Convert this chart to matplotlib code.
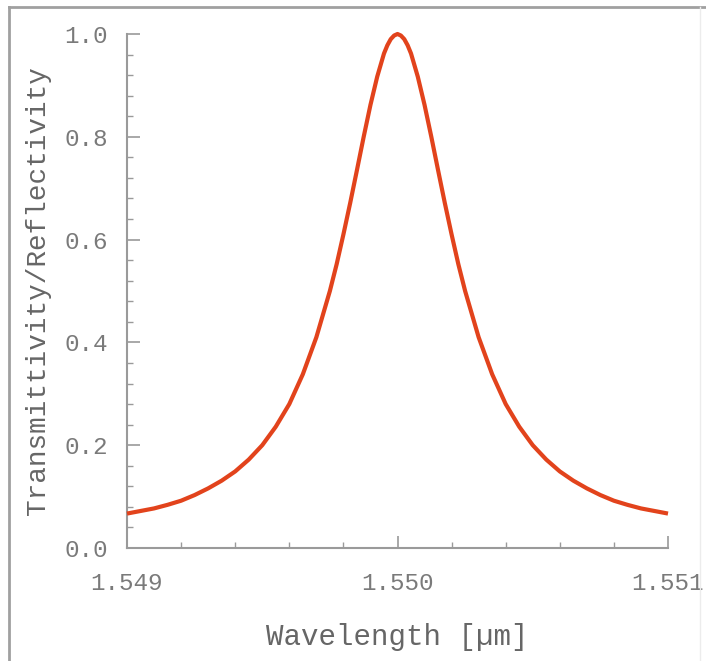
import matplotlib
matplotlib.use("Agg")
import matplotlib.pyplot as plt
from matplotlib.ticker import MultipleLocator, FixedLocator
from matplotlib.lines import Line2D

# ---- data ----
wavelength = [1.54900, 1.54905, 1.54910, 1.54915, 1.54920, 1.54925, 1.54930, 1.54935,
              1.54940, 1.54945, 1.54950, 1.54955, 1.54960, 1.54965, 1.54970, 1.549750,
              1.549775, 1.549800, 1.549825, 1.549850, 1.549875, 1.549900, 1.549925,
              1.549950, 1.5499625, 1.549975, 1.5499875, 1.550000,
              1.5500125, 1.550025, 1.5500375, 1.550050, 1.550075, 1.550100, 1.550125,
              1.550150, 1.550175,
              1.550200, 1.550225, 1.550250, 1.55030, 1.55035, 1.55040, 1.55045,
              1.55050, 1.55055, 1.55060, 1.55065, 1.55070, 1.55075, 1.55080, 1.55085,
              1.55090, 1.55095, 1.55100]
transmittivity = [0.067, 0.072, 0.077, 0.084, 0.092, 0.103, 0.116, 0.131,
                  0.149, 0.172, 0.200, 0.236, 0.280, 0.338, 0.410, 0.500,
                  0.552, 0.610, 0.671, 0.735, 0.800, 0.862, 0.917,
                  0.962, 0.978, 0.990, 0.997, 1.000,
                  0.997, 0.990, 0.978, 0.962, 0.917, 0.862, 0.800,
                  0.735, 0.671,
                  0.610, 0.552, 0.500, 0.410, 0.338, 0.280, 0.236,
                  0.200, 0.172, 0.149, 0.131, 0.116, 0.103, 0.092, 0.084,
                  0.077, 0.072, 0.067]
x_ticks = [1.549, 1.550, 1.551]
x_tick_labels = ["1.549", "1.550", "1.551"]
y_ticks = [0.0, 0.2, 0.4, 0.6, 0.8, 1.0]
y_tick_labels = ["0.0", "0.2", "0.4", "0.6", "0.8", "1.0"]
x_label = "Wavelength [µm]"
y_label = "Transmittivity/Reflectivity"

# ---- figure ----
W, H = 706, 661
fig = plt.figure(figsize=(W / 100, H / 100), dpi=100)
fig.patch.set_facecolor("white")

ax_left, ax_right, ax_top, ax_bottom = 127, 668, 34, 548
ax = fig.add_axes([ax_left / W, 1 - ax_bottom / H,
                   (ax_right - ax_left) / W, (ax_bottom - ax_top) / H])

ax.plot(wavelength, transmittivity, color="#E2431C", lw=3.0,
        solid_joinstyle="round", solid_capstyle="butt", clip_on=False, zorder=3)

ax.set_xlim(1.549, 1.551)
ax.set_ylim(0.0, 1.0)

for s in ("top", "right"):
    ax.spines[s].set_visible(False)
for s in ("left", "bottom"):
    ax.spines[s].set_color("#9a9a9a")
    ax.spines[s].set_linewidth(1.5)

mono = "Liberation Mono"
ax.xaxis.set_major_locator(FixedLocator(x_ticks))
ax.set_xticklabels(x_tick_labels)
ax.yaxis.set_major_locator(FixedLocator(y_ticks))
ax.set_yticklabels(y_tick_labels)
ax.xaxis.set_minor_locator(MultipleLocator(0.0002))
ax.yaxis.set_minor_locator(MultipleLocator(0.04))

ax.tick_params(which="major", direction="in", length=9, width=1.2, color="#9a9a9a",
               labelcolor="#7a7a7a", labelsize=17.5)
ax.tick_params(which="minor", direction="in", length=4.5, width=1.0, color="#9a9a9a")
ax.tick_params(axis="x", which="major", pad=17)
ax.tick_params(axis="y", which="major", pad=14)
for lab in ax.get_xticklabels() + ax.get_yticklabels():
    lab.set_fontfamily(mono)

ax.set_xlabel(x_label, fontsize=21, color="#666666", family=mono, va="center")
ax.xaxis.set_label_coords(0.5, (ax_bottom - 637) / (ax_bottom - ax_top))
ax.set_ylabel(y_label, fontsize=20, color="#666666", family=mono, va="center")
ax.yaxis.set_label_coords((38 - ax_left) / (ax_right - ax_left), 0.5)

# outer frame lines (top, left, faint right)
fig.add_artist(Line2D([9 / W, 1.0], [1 - 7 / H, 1 - 7 / H], color="#a0a0a0", lw=2.0,
                      transform=fig.transFigure))
fig.add_artist(Line2D([9 / W, 9 / W], [0.0, 1 - 7 / H], color="#a0a0a0", lw=2.0,
                      transform=fig.transFigure))
fig.add_artist(Line2D([700 / W, 700 / W], [0.0, 1 - 7 / H], color="#ececec", lw=1.0,
                      transform=fig.transFigure))

fig.savefig("out.png", dpi=100, facecolor="white")
